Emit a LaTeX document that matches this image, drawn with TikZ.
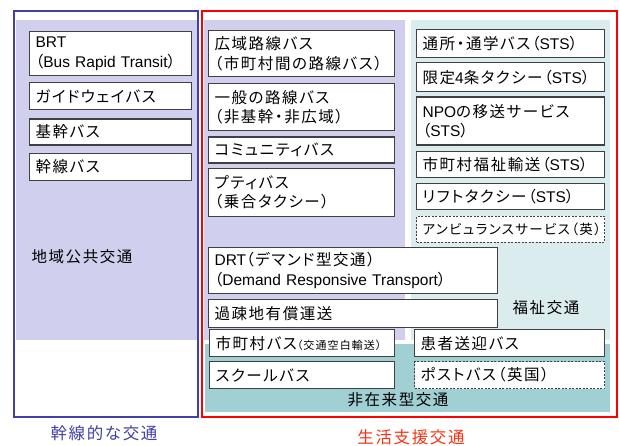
\documentclass[tikz,border=0pt]{standalone}
\usepackage{fontspec}
\setmainfont{Noto Sans CJK JP}[RawFeature=+palt, LetterSpace=10]
\newfontfamily\latinfont{Liberation Sans}
\usetikzlibrary{positioning}
\definecolor{TrunkBlue}{RGB}{64,64,168}
\definecolor{Lavender}{RGB}{208,208,238}
\definecolor{PaleCyan}{RGB}{218,236,238}
\definecolor{Teal}{RGB}{160,208,212}
\definecolor{LabelRed}{RGB}{250,50,20}
\tikzset{Box/.style={%
    shape=rectangle,%
    draw=black!75,%
    fill=white,%
    line width=1.2pt,%
    inner xsep=6pt,%
    inner ysep=0pt,%
    align=left,%
    font=\fontsize{15.5}{19.5}\selectfont,%
    text=black,%
}}
\tikzset{DashedBox/.style={%
    Box,%
    line width=0.8pt,%
    dash pattern=on 2pt off 1.5pt,%
}}
\tikzset{AreaLabel/.style={%
    font=\fontsize{15.5}{19.5}\selectfont,%
    text=black,%
    inner sep=0pt,%
}}
\tikzset{FrameLabel/.style={%
    font=\fontsize{16.5}{20}\selectfont,%
    inner sep=0pt,%
}}
\newcommand{\en}[1]{{\latinfont #1}}
\newcommand{\smallNote}[1]{{\fontsize{11}{13}\selectfont #1}}

\begin{document}
\begin{tikzpicture}[x=1pt,y=-1pt,node distance=6pt]
    \useasboundingbox (0,0) rectangle (619,445);
    % background areas
    \fill[Lavender] (16,20) rectangle (198,340);
    \fill[Lavender] (204,20) rectangle (405,340);
    \fill[PaleCyan] (411,20) rectangle (610,340);
    \fill[Teal] (205,344) rectangle (610,412);
    \draw[TrunkBlue, line width=2pt] (14,11) rectangle (198,417);
    \draw[red, line width=2pt] (202,11) rectangle (617,417);

    % trunk column
    \node[Box, anchor=north west, text width=150pt, minimum height=44pt] (l1) at (29,31) {\en{BRT}\\（\en{Bus Rapid Transit}）};
    \node[Box, below=6pt of l1, text width=150pt, minimum height=27pt] (l2) {ガイドウェイバス};
    \node[Box, below=8pt of l2, text width=150pt, minimum height=26pt] (l3) {基幹バス};
    \node[Box, below=7pt of l3, text width=150pt, minimum height=27pt] (l4) {幹線バス};

    % local bus column
    \node[Box, anchor=north west, text width=174pt, minimum height=46pt] (m1) at (208,30) {広域路線バス\\（市町村間の路線バス）};
    \node[Box, below=6pt of m1, text width=174pt, minimum height=47pt] (m2) {一般の路線バス\\（非基幹・非広域）};
    \node[Box, below=5pt of m2, text width=174pt, minimum height=26pt] (m3) {コミュニティバス};
    \node[Box, below=4pt of m3, text width=174pt, minimum height=48pt] (m4) {プティバス\\（乗合タクシー）};

    % welfare column
    \node[Box, anchor=north west, text width=176pt, minimum height=28pt] (r1) at (416,29) {通所・通学バス（\en{STS}）};
    \node[Box, below=4pt of r1, text width=176pt, minimum height=29pt] (r2) {限定\en{4}条タクシー（\en{STS}）};
    \node[Box, below=4pt of r2, text width=176pt, minimum height=48pt] (r3) {\en{NPO}の移送サービス\\（\en{STS}）};
    \node[Box, below=5pt of r3, text width=176pt, minimum height=26pt] (r4) {市町村福祉輸送（\en{STS}）};
    \node[Box, below=5pt of r4, text width=176pt, minimum height=26pt] (r5) {リフトタクシー（\en{STS}）};
    \node[DashedBox, below=6pt of r5, text width=176pt, minimum height=26pt, font=\fontsize{13.5}{16}\selectfont] (r6) {アンビュランスサービス（英）};

    % lower boxes
    \node[Box, anchor=north west, text width=277pt, minimum height=46pt] (d1) at (208,247) {\en{DRT}（デマンド型交通）\\（\en{Demand Responsive Transport}）};
    \node[Box, below=5pt of d1, text width=277pt, minimum height=28pt] (d2) {過疎地有償運送};
    \node[Box, anchor=north west, text width=173pt, minimum height=27pt] (d3) at (209,329) {市町村バス\smallNote{（交通空白輸送）}};
    \node[Box, below=4pt of d3, text width=173pt, minimum height=27pt] (d4) {スクールバス};
    \node[Box, anchor=north west, text width=178pt, minimum height=27pt] (e1) at (414,329) {患者送迎バス};
    \node[DashedBox, below=4pt of e1, text width=178pt, minimum height=27pt] (e2) {ポストバス（英国）};

    % area labels
    \node[AreaLabel] (chiiki) at (82,257) {地域公共交通};
    \node[AreaLabel] (fukushi) at (546,308) {福祉交通};
    \node[AreaLabel] (hizairai) at (398,400) {非在来型交通};
    \node[FrameLabel, text=TrunkBlue] (kansen) at (104,433) {幹線的な交通};
    \node[FrameLabel, text=LabelRed] (seikatsu) at (411,437) {生活支援交通};
\end{tikzpicture}
\end{document}
